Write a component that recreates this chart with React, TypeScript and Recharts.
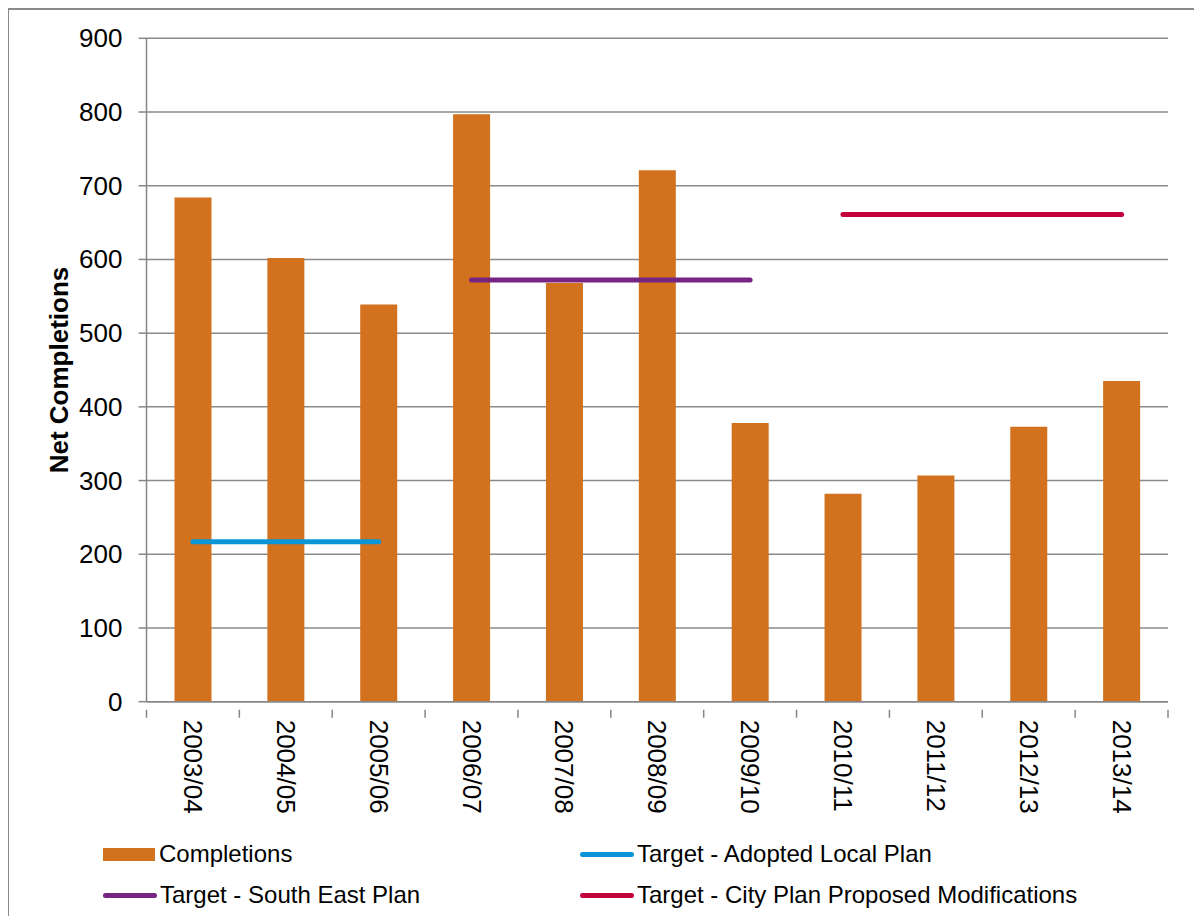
import React from "react";
import { ComposedChart, Bar, Line, XAxis, YAxis, CartesianGrid } from "recharts";

const categories = [
  "2003/04", "2004/05", "2005/06", "2006/07", "2007/08", "2008/09",
  "2009/10", "2010/11", "2011/12", "2012/13", "2013/14",
];
const completions = [684, 602, 539, 797, 568, 721, 378, 282, 307, 373, 435];
const adoptedLocalPlan = [217, 217, 217, null, null, null, null, null, null, null, null];
const southEastPlan = [null, null, null, 572, 572, 572, 572, null, null, null, null];
const cityPlanMods = [null, null, null, null, null, null, null, 661, 661, 661, 661];
const yTicks = [0, 100, 200, 300, 400, 500, 600, 700, 800, 900];

const COLORS = {
  completions: "#D2711E",
  adopted: "#0A96D6",
  southEast: "#772583",
  city: "#C4003C",
};

const data = categories.map((name, i) => ({
  name,
  completions: completions[i],
  adopted: adoptedLocalPlan[i],
  southEast: southEastPlan[i],
  city: cityPlanMods[i],
}));

const FONT = "'Liberation Sans', Arial, sans-serif";
const AXIS = "#868686";
const W = 1202;
const H = 924;
const PLOT_LEFT = 146.5;
const PLOT_RIGHT = 1168;
const PLOT_TOP = 38.3;
const PLOT_BOTTOM = 701.7;
const X_AXIS_H = 110;
const Y_AXIS_W = 80;
const BAND = (PLOT_RIGHT - PLOT_LEFT) / categories.length;

function XTick(props: any) {
  const { x, y, payload, index } = props;
  const left = x - BAND / 2;
  const right = x + BAND / 2;
  return (
    <g>
      <line x1={left} y1={y} x2={left} y2={y + 8} stroke={AXIS} strokeWidth={1.5} />
      {index === categories.length - 1 && (
        <line x1={right} y1={y} x2={right} y2={y + 8} stroke={AXIS} strokeWidth={1.5} />
      )}
      <text
        transform={`translate(${x},${y + 10}) rotate(90)`}
        textAnchor="start"
        dominantBaseline="central"
        fontFamily={FONT}
        fontSize={26}
        fill="#000"
      >
        {payload.value}
      </text>
    </g>
  );
}

function YTick(props: any) {
  const { x, y, payload } = props;
  return (
    <text
      x={x - 14}
      y={y}
      textAnchor="end"
      dominantBaseline="central"
      fontFamily={FONT}
      fontSize={26}
      fill="#000"
    >
      {payload.value}
    </text>
  );
}

const legendItems = [
  { label: "Completions", color: COLORS.completions, kind: "bar", left: 103, top: 854 },
  { label: "Target - Adopted Local Plan", color: COLORS.adopted, kind: "line", left: 580, top: 854 },
  { label: "Target - South East Plan", color: COLORS.southEast, kind: "line", left: 103, top: 895 },
  { label: "Target - City Plan Proposed Modifications", color: COLORS.city, kind: "line", left: 580, top: 895 },
];

export default function App() {
  return (
    <div style={{ position: "relative", width: W, height: H, margin: -8, background: "#fff", overflow: "hidden" }}>
      <div
        style={{
          position: "absolute",
          left: 7,
          top: 8,
          width: 1186,
          height: 940,
          border: "2px solid #8a8a8a",
        }}
      />
      <div style={{ position: "absolute", left: 0, top: 0 }}>
        <ComposedChart
          width={W}
          height={H}
          data={data}
          margin={{
            top: PLOT_TOP,
            right: W - PLOT_RIGHT,
            bottom: H - PLOT_BOTTOM - X_AXIS_H,
            left: PLOT_LEFT - Y_AXIS_W,
          }}
        >
          <CartesianGrid vertical={false} stroke="#8a8a8a" strokeWidth={1.5} />
          <XAxis
            dataKey="name"
            height={X_AXIS_H}
            interval={0}
            tickLine={false}
            axisLine={{ stroke: AXIS, strokeWidth: 1.5 }}
            tick={<XTick />}
          />
          <YAxis
            width={Y_AXIS_W}
            domain={[0, 900]}
            ticks={yTicks}
            interval={0}
            tickSize={8}
            tickLine={{ stroke: AXIS, strokeWidth: 1.5 }}
            axisLine={{ stroke: AXIS, strokeWidth: 1.5 }}
            tick={<YTick />}
            label={{
              value: "Net Completions",
              angle: -90,
              position: "insideLeft",
              offset: 0,
              dx: -8,
              style: { fontFamily: FONT, fontSize: 26, fontWeight: "bold", fill: "#000", textAnchor: "middle" },
            }}
          />
          <Bar dataKey="completions" fill={COLORS.completions} barSize={37} isAnimationActive={false} />
          <Line dataKey="adopted" stroke={COLORS.adopted} strokeWidth={5} strokeLinecap="round" dot={false} activeDot={false} connectNulls={false} isAnimationActive={false} />
          <Line dataKey="southEast" stroke={COLORS.southEast} strokeWidth={5} strokeLinecap="round" dot={false} activeDot={false} connectNulls={false} isAnimationActive={false} />
          <Line dataKey="city" stroke={COLORS.city} strokeWidth={5} strokeLinecap="round" dot={false} activeDot={false} connectNulls={false} isAnimationActive={false} />
        </ComposedChart>
      </div>
      {legendItems.map((item) => (
        <div
          key={item.label}
          style={{
            position: "absolute",
            left: item.left,
            top: item.top,
            transform: "translateY(-50%)",
            display: "flex",
            alignItems: "center",
            fontFamily: FONT,
            fontSize: 24,
            color: "#000",
            whiteSpace: "nowrap",
          }}
        >
          {item.kind === "bar" ? (
            <span style={{ width: 52, height: 13, background: item.color, marginRight: 4 }} />
          ) : (
            <span style={{ width: 54, height: 5, borderRadius: 3, background: item.color, marginRight: 3 }} />
          )}
          {item.label}
        </div>
      ))}
    </div>
  );
}
